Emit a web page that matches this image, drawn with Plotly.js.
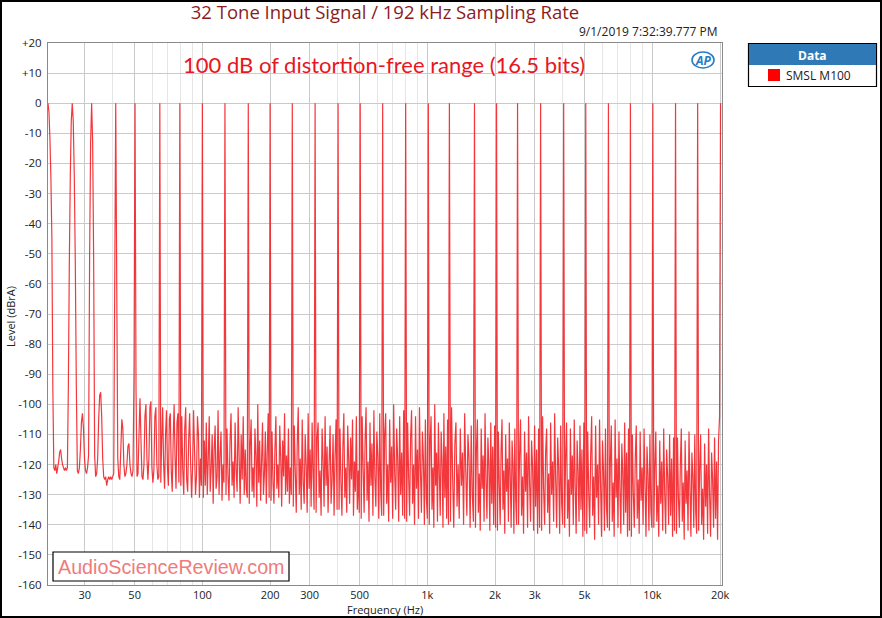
<!DOCTYPE html>
<html>
<head>
<meta charset="utf-8">
<script src="https://cdn.plot.ly/plotly-3.0.1.min.js"></script>
<style>
  html, body { margin: 0; padding: 0; background: #fff; }
  #wrap { position: relative; width: 882px; height: 618px; }
  #chart { width: 882px; height: 618px; }
  #frame { position: absolute; left: 0; top: 0; width: 882px; height: 618px; box-sizing: border-box; border: 2px solid #000; pointer-events: none; }
</style>
</head>
<body>
<div id="wrap"><div id="chart"></div><div id="frame"></div></div>
<script>
// ---- data ----
const seriesName = "SMSL M100";
const chartTitle = "32 Tone Input Signal / 192 kHz Sampling Rate";
const timestamp = "9/1/2019 7:32:39.777 PM";
const headline = "100 dB of distortion-free range (16.5 bits)";
const watermark = "AudioScienceReview.com";

// tone frequencies (Hz) and their levels (dBrA)
const toneHz = [20.6, 26.4, 32.2, 41.2, 50.2, 64.7, 79.4, 100, 126, 160, 200, 251, 317, 401, 503, 633, 801,
  1010, 1253, 1620, 2030, 2517, 3187, 4036, 5058, 6380, 7990, 10050, 12680, 15900, 20100];
const toneDb = [0, 0, 0, 0, 0, 0, 0, 0, 0, 0, 0, 0, 0, 0, 0, 0, 0, 0, 0, 0, 0, 0, 0, 0, 0, 0, 0, 0, 0, 0, 0];

// residual / noise levels (dBrA) read between consecutive tones
const noiseLow = [
  [-3,-12,-25,-45,-95,-121,-122,-120,-123,-121,-119,-116,-115,-118,-120,-121,-122,-121,-122,-121,-94,-53,-24,-6],
  [-6,-24,-53,-94,-122,-123,-121,-115,-106,-103,-108,-118,-122,-123,-121,-117,-52,-13],
  [-13,-52,-117,-124,-123,-118,-105,-97,-96,-104,-118,-124,-125,-124,-127,-125,-124,-125,-124,-125,-124,-123,-60],
  [-60,-118,-124,-125,-115,-105,-108,-120,-124,-123,-120,-114,-113,-120,-123,-124,-122,-90],
  [-95,-124,-123,-110,-98,-112,-124,-125,-120,-104,-100,-118,-125,-118,-101,-99,-121,-126,-122,-104,-101,-120,-125,-124],
  [-126,-112,-101,-120,-128,-110,-102,-121,-127,-105,-103,-122,-129,-112,-100,-118,-128,-106,-103,-126],
  [-127,-104,-122,-130,-108,-101,-125,-129,-112,-103,-119,-131,-121,-102,-115,-130,-124,-104,-110,-131,-118,-127]
];
const noiseMid = [
  [-131,-112,-127,-106,-130,-118,-104,-129,-121,-110,-133,-115,-107,-128,-124,-102,-130,-117,-109,-132,-120,-126],
  [-130,-108,-124,-132,-112,-103,-127,-119,-131,-106,-122,-129,-101,-118,-133,-110,-125,-104,-130,-115,-128,-131],
  [-133,-114,-105,-129,-121,-131,-108,-117,-134,-100,-126,-112,-132,-119,-106,-130,-123,-109,-133,-116,-103,-131],
  [-132,-109,-126,-133,-115,-104,-128,-120,-131,-107,-118,-134,-112,-124,-103,-130,-117,-129,-108,-133,-121,-130],
  [-134,-107,-122,-136,-113,-101,-130,-118,-135,-105,-126,-133,-110,-120,-136,-103,-128,-115,-134,-106,-124,-135],
  [-136,-111,-106,-131,-122,-137,-108,-119,-134,-104,-127,-114,-136,-120,-107,-133,-125,-110,-137,-117,-105,-135],
  [-135,-108,-126,-137,-114,-103,-131,-121,-136,-107,-118,-133,-111,-125,-105,-137,-119,-129,-104,-135,-122,-136],
  [-138,-104,-121,-136,-112,-101,-132,-119,-139,-106,-127,-113,-137,-102,-124,-134,-109,-117,-138,-103,-129,-137],
  [-137,-110,-103,-133,-120,-139,-105,-126,-114,-138,-100,-123,-135,-108,-118,-139,-104,-130,-116,-137,-102,-138],
  [-139,-106,-124,-137,-111,-102,-133,-120,-140,-104,-128,-115,-138,-101,-122,-136,-109,-118,-140,-105,-131,-138],
  [-140,-112,-104,-135,-121,-141,-100,-127,-116,-139,-106,-123,-137,-109,-119,-141,-103,-131,-114,-138,-105,-140]
];
const noiseHigh = [
  [-139,-101,-125,-141,-113,-106,-134,-120,-138,-108,-127,-116,-140,-103,-122,-137,-110,-118,-141,-107,-130,-139],
  [-141,-115,-105,-136,-123,-142,-108,-128,-117,-139,-103,-125,-138,-111,-120,-142,-106,-133,-114,-140,-107,-141],
  [-142,-109,-127,-140,-115,-105,-135,-122,-143,-110,-129,-118,-139,-106,-124,-141,-112,-120,-143,-108,-132,-140],
  [-140,-117,-105,-137,-124,-143,-109,-129,-116,-141,-104,-126,-139,-112,-121,-142,-107,-134,-115,-143,-108,-141],
  [-142,-104,-128,-140,-116,-108,-136,-123,-143,-106,-130,-119,-139,-103,-125,-141,-111,-121,-143,-107,-133,-140],
  [-141,-118,-106,-138,-125,-144,-108,-130,-117,-140,-105,-127,-143,-112,-122,-139,-107,-135,-115,-144,-106,-142],
  [-143,-109,-129,-141,-117,-104,-137,-124,-145,-107,-131,-120,-140,-105,-126,-144,-112,-122,-142,-108,-134,-141],
  [-142,-119,-107,-139,-126,-144,-105,-131,-118,-141,-109,-128,-143,-113,-123,-140,-106,-136,-116,-144,-108,-142],
  [-144,-110,-130,-141,-118,-107,-138,-125,-143,-109,-132,-121,-140,-108,-127,-144,-114,-123,-142,-110,-135,-141],
  [-141,-121,-109,-139,-127,-144,-112,-133,-119,-142,-108,-129,-143,-115,-124,-140,-110,-137,-118,-144,-111,-142],
  [-143,-111,-131,-141,-120,-108,-139,-126,-145,-112,-133,-122,-142,-109,-128,-144,-116,-124,-141,-110,-136,-143],
  [-142,-122,-110,-140,-128,-145,-113,-134,-120,-143,-108,-130,-144,-116,-125,-141,-111,-138,-119,-145,-112,-104]
];

// axis ticks
const xTickVals = [30, 50, 100, 200, 300, 500, 1000, 2000, 3000, 5000, 10000, 20000];
const xTickText = ["30", "50", "100", "200", "300", "500", "1k", "2k", "3k", "5k", "10k", "20k"];
const xMinorVals = [40, 60, 70, 80, 90, 400, 600, 700, 800, 900, 4000, 6000, 7000, 8000, 9000];
const yTickVals = [20, 10, 0, -10, -20, -30, -40, -50, -60, -70, -80, -90, -100, -110, -120, -130, -140, -150, -160];
const yTickText = ["+20", "+10", "0", "-10", "-20", "-30", "-40", "-50", "-60", "-70", "-80", "-90", "-100", "-110", "-120", "-130", "-140", "-150", "-160"];

// ---- build the trace: tones, with the read noise values spread between them ----
const segments = noiseLow.concat(noiseMid, noiseHigh);
const xs = [], ys = [];
for (let i = 0; i < toneHz.length; i++) {
  xs.push(toneHz[i]); ys.push(toneDb[i]);
  if (i < toneHz.length - 1) {
    const seg = segments[i];
    const a = Math.log10(toneHz[i]), b = Math.log10(toneHz[i + 1]);
    for (let k = 0; k < seg.length; k++) {
      const t = (k + 1) / (seg.length + 1);
      xs.push(Math.pow(10, a + (b - a) * t));
      ys.push(seg[k]);
    }
  }
}

const baseFont = "Open Sans, Noto Sans, sans-serif";
const trace = {
  x: xs, y: ys, type: "scatter", mode: "lines", name: seriesName,
  line: { color: "rgba(242,34,40,0.9)", width: 1.2, simplify: false },
  hoverinfo: "skip"
};

// paper-coordinate helpers (plot area 48..722 x 43..585)
const L = 48, R = 722, T = 43, B = 585;
const px = v => (v - L) / (R - L);
const py = v => (B - v) / (B - T);

const layout = {
  width: 882, height: 618,
  margin: { l: L, r: 882 - R, t: T, b: 618 - B, pad: 0 },
  paper_bgcolor: "#ffffff", plot_bgcolor: "#ffffff",
  showlegend: false,
  font: { family: baseFont, size: 11, color: "#222" },
  title: { text: chartTitle, font: { family: baseFont, size: 18.5, color: "#8a1c1c" },
           x: 0.5, xref: "paper", xanchor: "center", y: 1 - 13 / 618, yref: "container", yanchor: "middle" },
  xaxis: {
    type: "log", range: [Math.log10(20.6), Math.log10(20400)],
    tickmode: "array", tickvals: xTickVals, ticktext: xTickText,
    ticks: "", showgrid: true, gridcolor: "#cacaca", gridwidth: 1,
    showline: true, linecolor: "#8a8a8a", linewidth: 1, mirror: true,
    zeroline: false, tickfont: { family: baseFont, size: 11, color: "#222" },
    ticklabelstandoff: 0,
    minor: { tickmode: "array", tickvals: xMinorVals, showgrid: true, gridcolor: "#e6e6e6", gridwidth: 1, ticks: "" },
    fixedrange: true
  },
  yaxis: {
    range: [-160, 20], tickmode: "array", tickvals: yTickVals, ticktext: yTickText,
    ticks: "", showgrid: true, gridcolor: "#cacaca", gridwidth: 1,
    showline: true, linecolor: "#8a8a8a", linewidth: 1, mirror: true,
    zeroline: false, tickfont: { family: baseFont, size: 11.5, color: "#222" },
    ticklabelstandoff: 3, automargin: false, fixedrange: true
  },
  shapes: [
    // watermark box
    { type: "rect", xref: "paper", yref: "paper", x0: px(53), x1: px(289), y0: py(581), y1: py(552),
      line: { color: "#000", width: 1.2 }, fillcolor: "#ffffff", layer: "above" },
    // legend box
    { type: "rect", xref: "paper", yref: "paper", x0: px(748.5), x1: px(876.5), y0: py(86.5), y1: py(43.5),
      line: { color: "#000", width: 1.2 }, fillcolor: "#ffffff" },
    { type: "rect", xref: "paper", yref: "paper", x0: px(749), x1: px(876), y0: py(65), y1: py(44),
      line: { width: 0 }, fillcolor: "#2f79b6" },
    { type: "rect", xref: "paper", yref: "paper", x0: px(768), x1: px(780), y0: py(81), y1: py(69),
      line: { width: 0 }, fillcolor: "#ff0000" },
    // AP logo ring
    { type: "circle", xref: "paper", yref: "paper", x0: px(692), x1: px(714), y0: py(68), y1: py(52),
      line: { color: "#2a7cc4", width: 1.6 } }
  ],
  annotations: [
    { text: timestamp, xref: "paper", yref: "paper", x: px(720), y: py(32), xanchor: "right", yanchor: "middle",
      showarrow: false, font: { family: baseFont, size: 12, color: "#222" } },
    { text: headline, xref: "paper", yref: "paper", x: px(383.5), y: py(64), xanchor: "center", yanchor: "middle",
      showarrow: false, font: { family: "Lato, Carlito, sans-serif", size: 22, color: "#e8161e" } },
    { text: "<b><i>AP</i></b>", xref: "paper", yref: "paper", x: px(703), y: py(60), xanchor: "center", yanchor: "middle",
      showarrow: false, font: { family: baseFont, size: 12, color: "#2a7cc4" } },
    { text: watermark, xref: "paper", yref: "paper", x: px(171), y: py(566.5), xanchor: "center", yanchor: "middle",
      showarrow: false, font: { family: "Liberation Sans, Arial, sans-serif", size: 19.7, color: "#ef7b7b" } },
    { text: "Level (dBrA)", xref: "paper", yref: "paper", x: px(10), y: py(317), xanchor: "center", yanchor: "middle",
      textangle: -90, showarrow: false, font: { family: baseFont, size: 11, color: "#222" } },
    { text: "Frequency (Hz)", xref: "paper", yref: "paper", x: px(385), y: py(609.5), xanchor: "center", yanchor: "middle",
      showarrow: false, font: { family: baseFont, size: 11, color: "#222" } },
    { text: "<b>Data</b>", xref: "paper", yref: "paper", x: px(812.5), y: py(55), xanchor: "center", yanchor: "middle",
      showarrow: false, font: { family: baseFont, size: 12, color: "#ffffff" } },
    { text: seriesName, xref: "paper", yref: "paper", x: px(784), y: py(75.5), xanchor: "left", yanchor: "middle",
      showarrow: false, font: { family: baseFont, size: 12, color: "#222" } }
  ]
};

Plotly.newPlot("chart", [trace], layout, { staticPlot: true, displayModeBar: false });
</script>
</body>
</html>
